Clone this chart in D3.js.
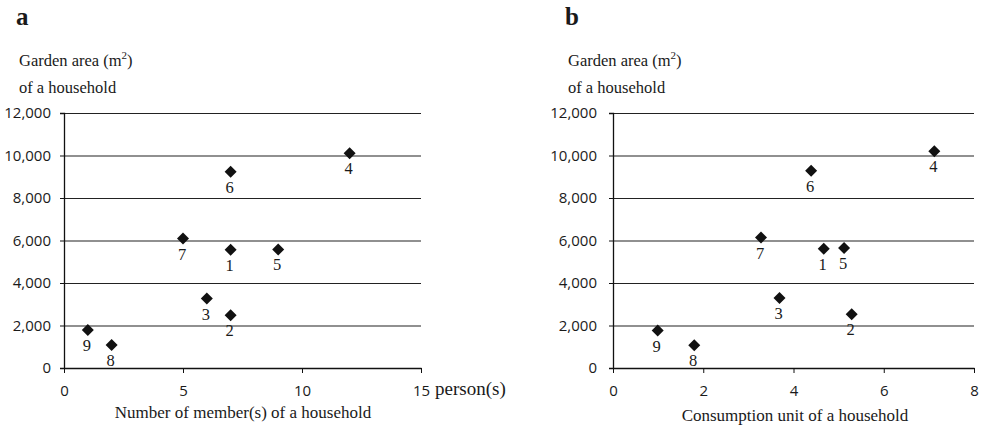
<!DOCTYPE html>
<html>
<head>
<meta charset="utf-8">
<script src="https://cdn.jsdelivr.net/npm/d3@7"></script>
<style>
  body { margin: 0; background: #fff; }
  .serif { font-family: "Liberation Serif", "Times New Roman", serif; fill: #1a1a1a; }
  .tick text { font-family: "Open Sans", sans-serif; font-size: 15px; fill: #1a1a1a; }
</style>
</head>
<body>
<div id="chart"></div>
<script>
const width = 981;
const height = 429;

// household ids, shared by both panels
const households = [1, 2, 3, 4, 5, 6, 7, 8, 9];

// panel a: number of members vs garden area
const membersA = [7, 7, 6, 12, 9, 7, 5, 2, 1];
const gardenA = [5560, 2480, 3270, 10110, 5580, 9230, 6090, 1080, 1790];

// panel b: consumption unit vs garden area
const unitsB = [4.67, 5.29, 3.69, 7.12, 5.12, 4.39, 3.28, 1.8, 0.99];
const gardenB = [5610, 2530, 3290, 10200, 5650, 9280, 6140, 1070, 1760];

const yTicks = [0, 2000, 4000, 6000, 8000, 10000, 12000];
const xTicksA = [0, 5, 10, 15];
const xTicksB = [0, 2, 4, 6, 8];

let svg = d3.select("#chart")
    .append("svg")
    .attr("width", width)
    .attr("height", height);

function drawPanel(p) {

    let x = d3.scaleLinear().domain(p.xDomain).range(p.xRange);
    let y = d3.scaleLinear().domain([0, 12000]).range([368, 113]);
    let w = p.xRange[1] - p.xRange[0];

    // panel letter
    svg.append("text")
        .attr("class", "serif")
        .attr("x", p.letterX)
        .attr("y", 25)
        .attr("font-size", 25)
        .attr("font-weight", "bold")
        .text(p.letter);

    // y title, two lines
    let yt = svg.append("text")
        .attr("class", "serif")
        .attr("x", p.letterX + 3)
        .attr("y", 66)
        .attr("font-size", 16.5);
    yt.append("tspan").text("Garden area (m");
    yt.append("tspan").attr("font-size", 11).attr("dy", -7).text("2");
    yt.append("tspan").attr("dy", 7).text(")");

    svg.append("text")
        .attr("class", "serif")
        .attr("x", p.letterX + 3)
        .attr("y", 93)
        .attr("font-size", 16.5)
        .text("of a household");

    // gridlines
    let grid = svg.append("g")
        .attr("transform", "translate(" + p.xRange[0] + ",0)")
        .call(d3.axisLeft(y).tickValues(yTicks).tickSize(-w).tickFormat(""));
    grid.select(".domain").remove();
    grid.selectAll("line").attr("stroke", "#222").attr("stroke-width", 1.2);

    // y axis
    let ya = svg.append("g")
        .attr("transform", "translate(" + p.xRange[0] + ",0)")
        .call(d3.axisLeft(y)
            .tickValues(yTicks)
            .tickSize(4)
            .tickPadding(p.yPad)
            .tickFormat(d3.format(",")));
    ya.select(".domain").attr("stroke", "#111").attr("stroke-width", 1.3);
    ya.selectAll("line").attr("stroke", "#111");

    // x axis
    let xa = svg.append("g")
        .attr("transform", "translate(0,368)")
        .call(d3.axisBottom(x)
            .tickValues(p.xTicks)
            .tickSize(5)
            .tickPadding(12)
            .tickSizeOuter(0));
    xa.select(".domain").attr("stroke", "#111").attr("stroke-width", 1.3);
    xa.selectAll("line").attr("stroke", "#111");

    // x title
    svg.append("text")
        .attr("class", "serif")
        .attr("x", p.titleX)
        .attr("y", p.titleY)
        .attr("text-anchor", "middle")
        .attr("font-size", 17)
        .text(p.xTitle);

    if (p.unit) {
        svg.append("text")
            .attr("class", "serif")
            .attr("x", x(p.xDomain[1]) + 14)
            .attr("y", 395)
            .attr("font-size", 19)
            .text(p.unit);
    }

    let pts = households.map((h, i) => ({ id: h, x: p.xs[i], y: p.ys[i] }));

    // diamonds
    svg.append("g")
        .selectAll("path")
        .data(pts)
        .join("path")
        .attr("d", d3.symbol().type(d3.symbolSquare).size(72))
        .attr("transform", d => "translate(" + x(d.x) + "," + y(d.y) + ") rotate(45)")
        .attr("fill", "#111");

    // point numbers under each marker
    svg.append("g")
        .selectAll("text")
        .data(pts)
        .join("text")
        .attr("class", "serif")
        .attr("x", d => x(d.x) - 1)
        .attr("y", d => y(d.y) + 21)
        .attr("text-anchor", "middle")
        .attr("font-size", 16.5)
        .text(d => d.id);
}

drawPanel({
    letter: "a", letterX: 16,
    xDomain: [0, 15], xRange: [64, 421], xTicks: xTicksA,
    xs: membersA, ys: gardenA, yPad: 9,
    xTitle: "Number of member(s) of a household", titleX: 243, titleY: 418,
    unit: "person(s)"
});

drawPanel({
    letter: "b", letterX: 565,
    xDomain: [0, 8], xRange: [613, 974], xTicks: xTicksB,
    xs: unitsB, ys: gardenB, yPad: 12,
    xTitle: "Consumption unit of a household", titleX: 795, titleY: 421
});
</script>
</body>
</html>
